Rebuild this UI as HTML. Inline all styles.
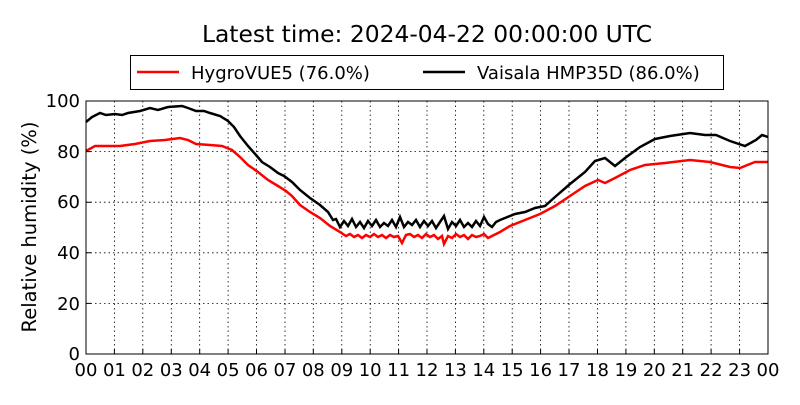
<!DOCTYPE html>
<html><head><meta charset="utf-8"><style>
body{margin:0;background:#fff;width:800px;height:400px;overflow:hidden}
text{font-family:"DejaVu Sans","Liberation Sans",sans-serif}
</style></head><body>
<svg width="800" height="400" viewBox="0 0 800 400">
<rect width="800" height="400" fill="#fff"/>
<text x="427" y="42" font-size="23.4" text-anchor="middle">Latest time: 2024-04-22 00:00:00 UTC</text>
<g stroke="#000" stroke-width="0.8" stroke-dasharray="1.5,3" fill="none">
<path d="M114.4 101V354M142.8 101V354M171.3 101V354M199.7 101V354M228.1 101V354M256.5 101V354M285 101V354M313.3 101V354M341.8 101V354M370.2 101V354M398.6 101V354M427 101V354M455.4 101V354M483.8 101V354M512.2 101V354M540.6 101V354M569 101V354M597.5 101V354M625.9 101V354M654.3 101V354M682.7 101V354M711.1 101V354M739.6 101V354"/>
<path d="M86 303.4H768M86 252.8H768M86 202.2H768M86 151.6H768"/>
</g>
<polyline fill="none" stroke="#f00" stroke-width="2.5" points="86,151 95,146 105,146 120,146 135,144 150,141 165,140 180,138 188,140 196,144 210,145 222,146 232,150 240,157 248,165 258,172 268,180 278,186 286,191 292,196 300,205 310,212 320,218 330,226 340,232 346,236 350,234 354,237 358,235 362,238 366,235 370,237 374,234 378,237 382,235 386,238 390,235 394,237 398,236 402,243 406,235 410,234 414,237 418,235 422,238 426,234 430,237 434,235 438,239 442,236 444,244 448,236 452,238 456,234 460,237 464,235 468,239 472,235 476,237 480,236 484,234 488,238 492,236 500,232 510,226 525,220 540,214 555,206 570,196 585,186 598,180 605,183 615,178 630,170 645,165 665,163 690,160 710,162 730,167 740,168 755,162 768,162"/>
<polyline fill="none" stroke="#000" stroke-width="2.5" points="86,122 92,117 100,113 106,115 115,114 122,115 128,113 140,111 150,108 158,110 168,107 182,106 188,108 196,111 204,111 210,113 220,116 228,121 234,127 240,136 248,146 256,155 262,162 270,167 278,173 284,176 292,182 300,190 310,198 320,205 328,212 333,220 336,219 340,227 344,221 348,226 352,219 356,227 360,222 364,228 368,221 372,226 376,220 380,227 384,223 388,226 392,220 396,227 400,217 404,227 408,222 412,225 416,220 420,227 424,221 428,226 432,221 436,228 440,222 444,216 448,229 452,222 456,226 460,220 464,227 468,223 472,227 476,221 480,226 484,217 488,224 492,227 496,222 500,220 505,218 515,214 525,212 535,208 545,206 555,197 570,184 585,172 595,161 605,158 610,162 615,166 625,158 640,147 655,139 670,136 690,133 705,135 716,135 730,141 745,146 756,140 762,135 768,137"/>
<rect x="86" y="101" width="682" height="253" fill="none" stroke="#000" stroke-width="1"/>
<g stroke="#000" stroke-width="1">
<path d="M86 354v-5M114.4 354v-5M142.8 354v-5M171.3 354v-5M199.7 354v-5M228.1 354v-5M256.5 354v-5M285 354v-5M313.3 354v-5M341.8 354v-5M370.2 354v-5M398.6 354v-5M427 354v-5M455.4 354v-5M483.8 354v-5M512.2 354v-5M540.6 354v-5M569 354v-5M597.5 354v-5M625.9 354v-5M654.3 354v-5M682.7 354v-5M711.1 354v-5M739.6 354v-5"/>
<path d="M86 303.4h5M86 252.8h5M86 202.2h5M86 151.6h5M768 303.4h-5M768 252.8h-5M768 202.2h-5M768 151.6h-5"/>
</g>
<g font-size="18" text-anchor="end">
<text x="80" y="360">0</text><text x="80" y="310">20</text><text x="80" y="259">40</text><text x="80" y="208">60</text><text x="80" y="158">80</text><text x="80" y="107">100</text>
</g>
<g font-size="18" text-anchor="middle">
<text x="86" y="376">00</text><text x="114.4" y="376">01</text><text x="142.8" y="376">02</text><text x="171.3" y="376">03</text><text x="199.7" y="376">04</text><text x="228.1" y="376">05</text><text x="256.5" y="376">06</text><text x="285" y="376">07</text><text x="313.3" y="376">08</text><text x="341.8" y="376">09</text><text x="370.2" y="376">10</text><text x="398.6" y="376">11</text><text x="427" y="376">12</text><text x="455.4" y="376">13</text><text x="483.8" y="376">14</text><text x="512.2" y="376">15</text><text x="540.6" y="376">16</text><text x="569" y="376">17</text><text x="597.5" y="376">18</text><text x="625.9" y="376">19</text><text x="654.3" y="376">20</text><text x="682.7" y="376">21</text><text x="711.1" y="376">22</text><text x="739.6" y="376">23</text><text x="768" y="376">00</text>
</g>
<text transform="translate(36,227) rotate(-90)" font-size="19.5" text-anchor="middle">Relative humidity (%)</text>
<rect x="130.5" y="55.5" width="593" height="34" fill="#fff" stroke="#000" stroke-width="1"/>
<line x1="137" y1="72" x2="179" y2="72" stroke="#f00" stroke-width="2.5"/>
<text x="191" y="79" font-size="18">HygroVUE5 (76.0%)</text>
<line x1="423" y1="72" x2="465" y2="72" stroke="#000" stroke-width="2.5"/>
<text x="477" y="79" font-size="18">Vaisala HMP35D (86.0%)</text>
</svg>
</body></html>
